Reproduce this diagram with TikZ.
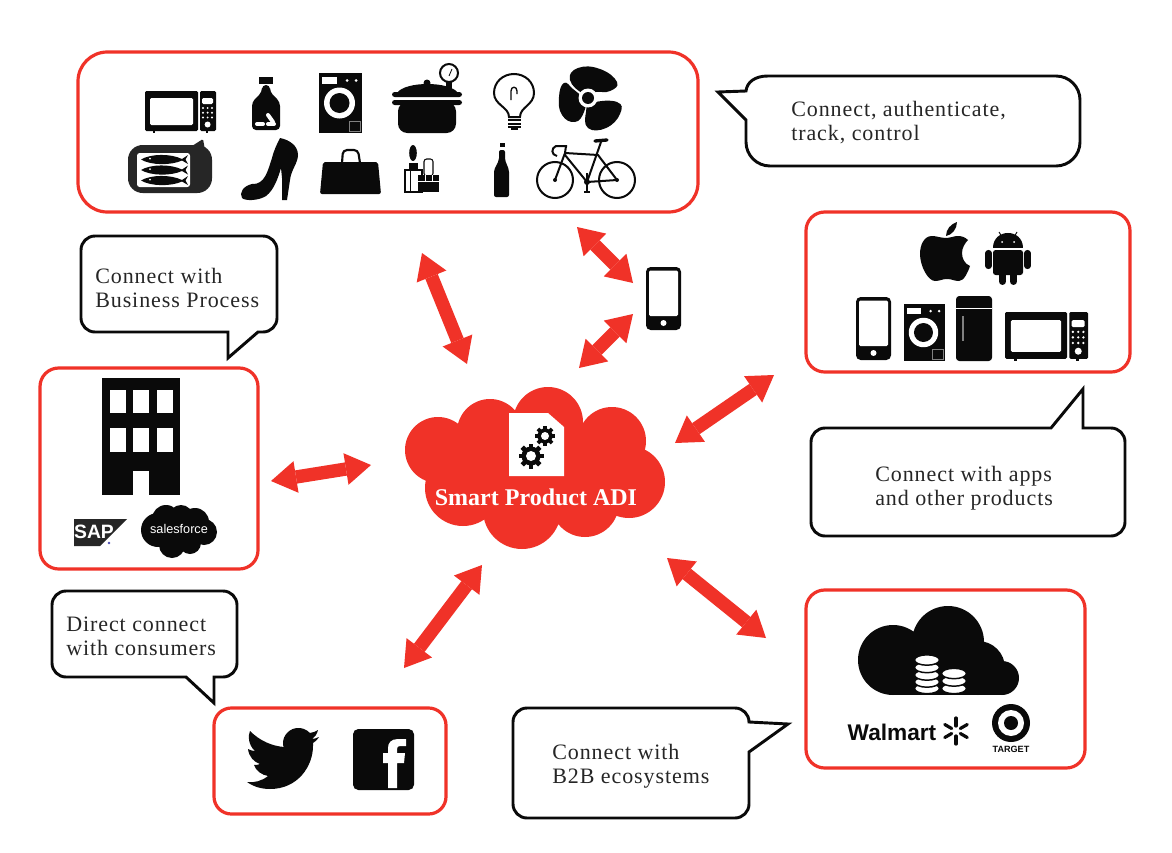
\documentclass[tikz,border=0pt]{standalone}
\usepackage{fontspec}
\setmainfont{Liberation Serif}
\newfontfamily\sansfam{Liberation Sans}
\newfontfamily\bubblefam[LetterSpace=4.2]{Liberation Serif}
\usetikzlibrary{arrows.meta}
\definecolor{adired}{HTML}{F03228}
\definecolor{icon}{HTML}{0A0A0A}
\tikzset{
  redbox/.style={draw=adired,line width=2.4pt,fill=white,inner sep=0pt,outer sep=0pt},
  bubble/.style={draw=icon,line width=2.2pt,fill=white,line join=miter},
  bubbletext/.style={font=\bubblefam\fontsize{16.5}{18}\selectfont,text=black!85,align=left,anchor=west,inner sep=0pt},
  link/.style={draw=adired,line width=10pt,{Triangle[length=19pt,width=24pt,line width=0pt]}-{Triangle[length=19pt,width=24pt,line width=0pt]}},
  ico/.style={fill=icon,draw=none},
  wht/.style={fill=white,draw=none},
  logo/.style={font=\sansfam\bfseries,inner sep=0pt}
}
\newcommand{\iconMicro}[3]{\begin{scope}[shift={(#1,#2)},scale=#3]
  \fill[ico,rounded corners=1pt] (0,0) rectangle (53,40);
  \fill[ico,rounded corners=1pt] (55,0) rectangle (71,40);
  \fill[ico] (8,40) rectangle (10,41.5); \fill[ico] (61,40) rectangle (63,41.5);
  \fill[wht,rounded corners=1pt] (5,7) rectangle (48,34);
  \fill[wht,rounded corners=1pt] (57,7) rectangle (68,13);
  \foreach \i in {58,62.6,67}{\foreach \j in {17,21.7,26.5}{\fill[wht] (\i,\j) circle[radius=1.1];}}
  \fill[wht] (62.6,33.5) circle[radius=3];
\end{scope}}
\newcommand{\iconWasher}[3]{\begin{scope}[shift={(#1,#2)},scale=#3]
  \fill[ico] (0,0) rectangle (43,60);
  \fill[wht] (3,4) rectangle (18,11);
  \fill[wht] (28,7.5) circle[radius=1.5]; \fill[wht] (37,7.5) circle[radius=1.5];
  \fill[wht] (20.5,30) circle[radius=15.5];
  \fill[ico] (20.5,30) circle[radius=10];
  \draw[gray,line width=.6pt] (30,48) rectangle (41,58);
\end{scope}}
\newcommand{\iconPhone}[2]{\begin{scope}[shift={(#1,#2)}]
  \fill[ico,rounded corners=3.5pt] (0,0) rectangle (35,63);
  \fill[wht,rounded corners=1pt] (3,3.5) rectangle (32,49);
  \fill[wht] (17.5,56) circle[radius=3];
\end{scope}}
\newcommand{\gearIcon}[3]{\begin{scope}[shift={(#1,#2)},scale=#3]
  \foreach \a in {0,45,...,315}{\fill[ico,rotate=\a] (-2.3,-12.5) rectangle (2.3,-7);}
  \fill[ico] (0,0) circle[radius=9.5];
  \fill[wht] (0,0) circle[radius=5];
\end{scope}}
\newcommand{\fishIcon}[2]{\begin{scope}[shift={(#1,#2)}]
  \fill[ico] (0,4.5) .. controls (10,-1.5) and (30,-1.5) .. (41,4) -- (47,0) -- (44.5,4.5) -- (47,9) -- (41,5.5) .. controls (30,10.5) and (10,10.5) .. (0,4.5) -- cycle;
  \fill[wht] (9,3.5) circle[radius=1];
\end{scope}}
\begin{document}
\begin{tikzpicture}[x=.75pt,y=-.75pt]
\useasboundingbox (0,0) rectangle (1172,853);
\fill[white] (0,0) rectangle (1172,853);

% ---------- red boxes
\node[redbox,rounded corners=22pt,minimum width=465pt,minimum height=120pt] (things) at (388,132) {};
\node[redbox,rounded corners=14pt,minimum width=243pt,minimum height=120pt] (apps) at (968,292) {};
\node[redbox,rounded corners=14pt,minimum width=163.5pt,minimum height=150.75pt] (biz) at (149,468.5) {};
\node[redbox,rounded corners=14pt,minimum width=209.25pt,minimum height=133.5pt] (b2b) at (945.5,679) {};
\node[redbox,rounded corners=13pt,minimum width=174pt,minimum height=79.5pt] (social) at (330,761) {};

% ---------- speech bubbles
\draw[bubble] (746,120) -- (718,92) -- (746,91) .. controls (747,82) and (755,76) .. (768,76) -- (1056,76) arc[start angle=270,end angle=360,radius=24] -- (1080,142) arc[start angle=0,end angle=90,radius=24] -- (770,166) arc[start angle=90,end angle=180,radius=24] -- cycle;
\draw[bubble] (263,332) -- (258,332) -- (228,358) -- (228,332) -- (95,332) arc[start angle=90,end angle=180,radius=14] -- (81,250) arc[start angle=180,end angle=270,radius=14] -- (263,236) arc[start angle=270,end angle=360,radius=14] -- (277,318) arc[start angle=0,end angle=90,radius=14] -- cycle;
\draw[bubble] (825,428) -- (1051,428) -- (1083,389) -- (1083,428) -- (1111,428) arc[start angle=270,end angle=360,radius=14] -- (1125,522) arc[start angle=0,end angle=90,radius=14] -- (825,536) arc[start angle=90,end angle=180,radius=14] -- (811,442) arc[start angle=180,end angle=270,radius=14] -- cycle;
\draw[bubble] (223,677) -- (214,677) -- (214,703) -- (186,677) -- (66,677) arc[start angle=90,end angle=180,radius=14] -- (52,605) arc[start angle=180,end angle=270,radius=14] -- (223,591) arc[start angle=270,end angle=360,radius=14] -- (237,663) arc[start angle=0,end angle=90,radius=14] -- cycle;
\draw[bubble] (527,708) -- (735,708) arc[start angle=270,end angle=360,radius=14] -- (788,724) -- (749,752) -- (749,804) arc[start angle=0,end angle=90,radius=14] -- (527,818) arc[start angle=90,end angle=180,radius=14] -- (513,722) arc[start angle=180,end angle=270,radius=14] -- cycle;

\node[bubbletext] (t1) at (791,122.5) {Connect, authenticate,\\track, control};
\node[bubbletext] (t2) at (95,288) {Connect with\\Business Process};
\node[bubbletext] (t3) at (875,488.5) {Connect with apps\\and other products};
\node[bubbletext] (t4) at (66,636) {Direct connect\\with consumers};
\node[bubbletext] (t5) at (552,766.5) {Connect with\\B2B ecosystems};

% ---------- connectors
\coordinate (a1s) at (422,253); \coordinate (a1e) at (467,364);
\coordinate (a2s) at (577,227); \coordinate (a2e) at (633,283);
\coordinate (a3s) at (633,314); \coordinate (a3e) at (579,368);
\coordinate (a4s) at (271,481); \coordinate (a4e) at (371,465);
\coordinate (a5s) at (774,375); \coordinate (a5e) at (675,443);
\coordinate (a6s) at (482,565); \coordinate (a6e) at (404,668);
\coordinate (a7s) at (667,558); \coordinate (a7e) at (766,638);
\foreach \n in {1,...,7}{\draw[link] (a\n s) -- (a\n e);}

% ---------- central cloud
\fill[adired] (438,450) circle[radius=33] (490,432) circle[radius=33] (548,422) circle[radius=35]
  (612,441) circle[radius=34] (629,482) circle[radius=36] (585,503) circle[radius=34]
  (522,510) circle[radius=39] (463,488) circle[radius=38];
\fill[adired] (438,450) -- (490,432) -- (548,422) -- (612,441) -- (629,482) -- (585,503) -- (522,510) -- (463,488) -- cycle;
\fill[wht] (509,413) -- (548,413) -- (564,427) -- (564,476) -- (509,476) -- cycle;
\gearIcon{531}{456}{1}
\gearIcon{545}{436}{.8}
\node[text=white,font=\fontsize{18}{20}\selectfont\bfseries,inner sep=0pt] (adi) at (536,497) {Smart Product ADI};

% ---------- middle phone
\iconPhone{646}{267}

% ---------- top box icons, row 1
\iconMicro{145}{91}{1}
% pill bottle
\fill[ico] (259,77) rectangle (273,84);
\fill[ico,rounded corners=3pt] (262,85) -- (270,85) -- (270,92) -- (280,102) -- (280,130) -- (252,130) -- (252,102) -- (262,92) -- cycle;
\draw[white,line width=3pt,line cap=round] (268,115) -- (273,122);
\draw[white,line width=3pt,line cap=round] (257,124) -- (263,124);
\draw[white,line width=3pt,line cap=round] (268,124) -- (274,124);
\iconWasher{319}{73}{1}
% pressure cooker
\draw[icon,line width=1.5pt,fill=white] (449,73) circle[radius=9];
\draw[icon,line width=.6pt] (449,76) -- (452,69);
\fill[ico] (446,81) rectangle (452,90);
\fill[ico] (427,83) circle[radius=3.5];
\fill[ico] (397,93) .. controls (405,81) and (450,81) .. (458,93) -- cycle;
\fill[ico,rounded corners=2pt] (392,92) rectangle (462,97);
\fill[ico,rounded corners=2pt] (392,100) rectangle (462,105);
\fill[ico,rounded corners=7pt] (398,102) rectangle (456,133);
% bulb
\draw[icon,line width=1.5pt,fill=white] (509,117) .. controls (509,107) and (494,105) .. (494,93) .. controls (494,82) and (503,74) .. (514,74) .. controls (525,74) and (534,82) .. (534,93) .. controls (534,105) and (520,107) .. (520,117) -- cycle;
\draw[icon,line width=1pt] (511,100) -- (511,91) .. controls (511,86) and (517,86) .. (517,91) -- (517,94);
\foreach \y in {119,122.5,126}{\fill[ico] (508,\y) rectangle (521,{\y+2});}
\fill[ico] (511,128) rectangle (518,130);
% fan
\fill[ico] plot[smooth cycle,tension=.8] coordinates {(584,94) (570,80) (578,68) (600,69) (617,82) (610,91) (596,92)};
\fill[ico] plot[smooth cycle,tension=.8] coordinates {(584,100) (573,89) (564,83) (559,97) (562,115) (575,122) (584,112)};
\fill[ico] plot[smooth cycle,tension=.8] coordinates {(592,103) (617,102) (620,114) (606,128) (588,128) (586,112)};
\fill[wht] (588,98) circle[radius=9.5];
\fill[ico] (588,98) circle[radius=6];

% ---------- top box icons, row 2
% sardine can
\fill[black!85,rounded corners=1pt] (192,146) -- (203,139) -- (205,150) -- (192,150) -- cycle;
\fill[black!85,rounded corners=11pt] (128,145) rectangle (212,193);
\fill[wht,rounded corners=2pt] (137,153) -- (190,153) -- (190,187) -- (137,187) -- cycle;
\fishIcon{141}{155}
\fishIcon{141}{165.5}
\fishIcon{141}{176}
% shoe
\fill[ico] (280,138) .. controls (290,140) and (298,146) .. (298,155) .. controls (298,163) and (291,170) .. (290,180) -- (287,200) -- (282,200) -- (282,178) -- (281,168) .. controls (278,178) and (274,190) .. (266,196) .. controls (258,201) and (245,201) .. (242,198) .. controls (239,193) and (243,186) .. (252,184) .. controls (265,185) and (268,170) .. (272,158) .. controls (274,150) and (277,144) .. (280,138) -- cycle;
% bag
\draw[icon,line width=1.6pt,rounded corners=3pt] (342,163) -- (343,150) -- (358,150) -- (360,163);
\fill[ico,rounded corners=1.5pt] (323,162) -- (378,162) -- (381,194) -- (320,194) -- cycle;
% cosmetics
\fill[ico] (413,153) ellipse[x radius=3.8,y radius=8];
\fill[ico] (409,163) rectangle (418,170);
\draw[icon,line width=.8pt,fill=white] (405,170) rectangle (422,192);
\draw[icon,line width=.6pt] (410,170) -- (410,192);
\draw[icon,line width=.8pt,fill=white,rounded corners=2pt] (424,159) rectangle (433,176);
\fill[ico] (418,175) rectangle (439,192);
\draw[white,line width=.6pt] (425,175) -- (425,182) (432,175) -- (432,182) (418,181) -- (439,181);
% wine bottle
\fill[ico] (500,143) rectangle (505,147);
\fill[ico,rounded corners=1.5pt] (499,150) -- (505,150) -- (505,160) -- (509,170) -- (509,197) -- (494,197) -- (494,170) -- (499,160) -- cycle;
% bicycle
\draw[icon,line width=1.5pt] (555,180) circle[radius=18] (617,180) circle[radius=18];
\draw[icon,line width=1.5pt,line join=round] (555,180) -- (565,153) -- (598,155) -- (617,180) -- (587,182) -- (565,155);
\draw[icon,line width=1.5pt] (587,182) -- (601,142);
\draw[icon,line width=2.5pt,line cap=round] (595,141) -- (607,140);
\draw[icon,line width=1.5pt] (566,146) -- (565,153);
\draw[icon,line width=1.5pt] (567,146) -- (556,146) .. controls (551,148) and (551,155) .. (557,156);
\fill[ico] (555,180) circle[radius=2] (617,180) circle[radius=2] (587,182) circle[radius=3];
\draw[icon,line width=1pt] (587,173) -- (587,192) (584,192) -- (590,192);

% ---------- apps box
\fill[ico] (947,238) .. controls (940,238) and (937,236) .. (932,236) .. controls (924,236) and (920,245) .. (920,254) .. controls (920,266) and (928,281) .. (935,281) .. controls (940,281) and (942,279) .. (947,279) .. controls (952,279) and (954,281) .. (959,281) .. controls (964,281) and (968,272) .. (970,266) .. controls (965,264) and (962,259) .. (962,253) .. controls (962,248) and (965,243) .. (968,240) .. controls (965,237) and (961,236) .. (958,236) .. controls (953,236) and (951,238) .. (947,238) -- cycle;
\fill[ico] (946,236) .. controls (946,229) and (951,224) .. (957,222) .. controls (957,229) and (952,235) .. (946,236) -- cycle;
% android
\fill[ico] (993,248) .. controls (993,228) and (1023,228) .. (1023,248) -- cycle;
\fill[ico,rounded corners=2pt] (993,250) rectangle (1023,275);
\draw[icon,line width=4.6pt,line cap=round] (988.5,253) -- (988.5,266);
\draw[icon,line width=4.6pt,line cap=round] (1027.5,253) -- (1027.5,266);
\draw[icon,line width=5.2pt,line cap=round] (1002.5,272) -- (1002.5,281.5);
\draw[icon,line width=5.2pt,line cap=round] (1013.5,272) -- (1013.5,281.5);
\draw[icon,line width=.7pt] (999,232) -- (1002,237) (1017,232) -- (1014,237);
\fill[wht] (1002,242) circle[radius=1] (1014,242) circle[radius=1];
\iconPhone{856}{297}
\iconWasher{904}{304}{.95}
\fill[ico,rounded corners=2.5pt] (956,296) rectangle (992,361);
\fill[wht] (956,307.5) rectangle (992,309);
\draw[gray,line width=.8pt] (963,316) -- (963,341);
\iconMicro{1005}{312}{1.17}

% ---------- business box
\fill[ico] (102,378) rectangle (180,495);
\foreach \x in {110,133,157}{\fill[wht] (\x,390) rectangle ({\x+16},413); \fill[wht] (\x,428) rectangle ({\x+16},452);}
\fill[wht] (133,471) rectangle (149,495);
\fill[black!85] (74,519) -- (127,519) -- (100,546) -- (74,546) -- cycle;
\node[logo,text=white,font=\sansfam\bfseries\fontsize{14.5}{15}\selectfont] (sap) at (94,532) {SAP};
\fill[blue!40!gray] (109,543) circle[radius=1.3];
\fill[ico] (158,530) circle[radius=17] (166,519) circle[radius=14] (181,517) circle[radius=12] (195,522) circle[radius=14] (204,532) circle[radius=13] (190,543) circle[radius=11] (172,545) circle[radius=13] (180,530) circle[radius=15];
\node[logo,text=white,font=\sansfam\fontsize{9.5}{10}\selectfont] (sf) at (179,529) {salesforce};

% ---------- b2b box
\fill[ico] (893,660) circle[radius=35] (948,642) circle[radius=36] (978,668) circle[radius=27] (1002,678) circle[radius=17];
\fill[ico] (893,665) rectangle (1002,695);
\foreach \y in {688.5,682,675,667.5,660}{\draw[icon,line width=1.1pt,fill=white] (927,\y) ellipse[x radius=12.5,y radius=5.2];}
\foreach \y in {688.5,681,673.5}{\draw[icon,line width=1.1pt,fill=white] (954,\y) ellipse[x radius=12.5,y radius=5.2];}
\node[logo,text=icon,font=\sansfam\bfseries\fontsize{17}{18}\selectfont] (wm) at (892,732) {Walmart};
\foreach \a in {30,90,...,330}{\draw[icon,line width=2.4pt,line cap=round,rotate around={\a:(956,731)}] (961,731) -- (969,731);}
\fill[ico] (1011,723) circle[radius=19];
\fill[wht] (1011,723) circle[radius=13];
\fill[ico] (1011,723) circle[radius=7];
\node[logo,text=icon,font=\sansfam\bfseries\fontsize{6.8}{8}\selectfont] (tg) at (1011,749) {TARGET};

% ---------- social box
\fill[ico] (310,733) .. controls (306,729) and (302,728) .. (298,728) .. controls (290,728) and (283,735) .. (283,743) .. controls (283,745) and (283,746) .. (284,747) .. controls (272,746) and (260,741) .. (250,731) .. controls (248,735) and (248,745) .. (255,751) .. controls (252,751) and (250,750) .. (248,749) .. controls (249,757) and (254,762) .. (260,764) .. controls (258,765) and (256,765) .. (254,765) .. controls (256,771) and (262,775) .. (268,776) .. controls (262,781) and (254,783) .. (247,782) .. controls (254,787) and (262,789) .. (270,789) .. controls (298,789) and (313,766) .. (313,746) -- (313,743) .. controls (315,742) and (317,740) .. (319,737) .. controls (317,738) and (314,739) .. (312,739) .. controls (315,737) and (317,734) .. (318,730) .. controls (316,731) and (313,733) .. (310,733) -- cycle;
\fill[ico,rounded corners=4pt] (353,729) rectangle (414,790);
\fill[wht] (397,788) -- (397,763) -- (404,763) -- (405,753) -- (397,753) -- (397,749) .. controls (397,747) and (398,746) .. (400,746) -- (406,746) -- (406,739) -- (398,739) .. controls (391,739) and (388,743) .. (388,748) -- (388,753) -- (383,753) -- (383,763) -- (388,763) -- (388,788) -- cycle;
\end{tikzpicture}
\end{document}
